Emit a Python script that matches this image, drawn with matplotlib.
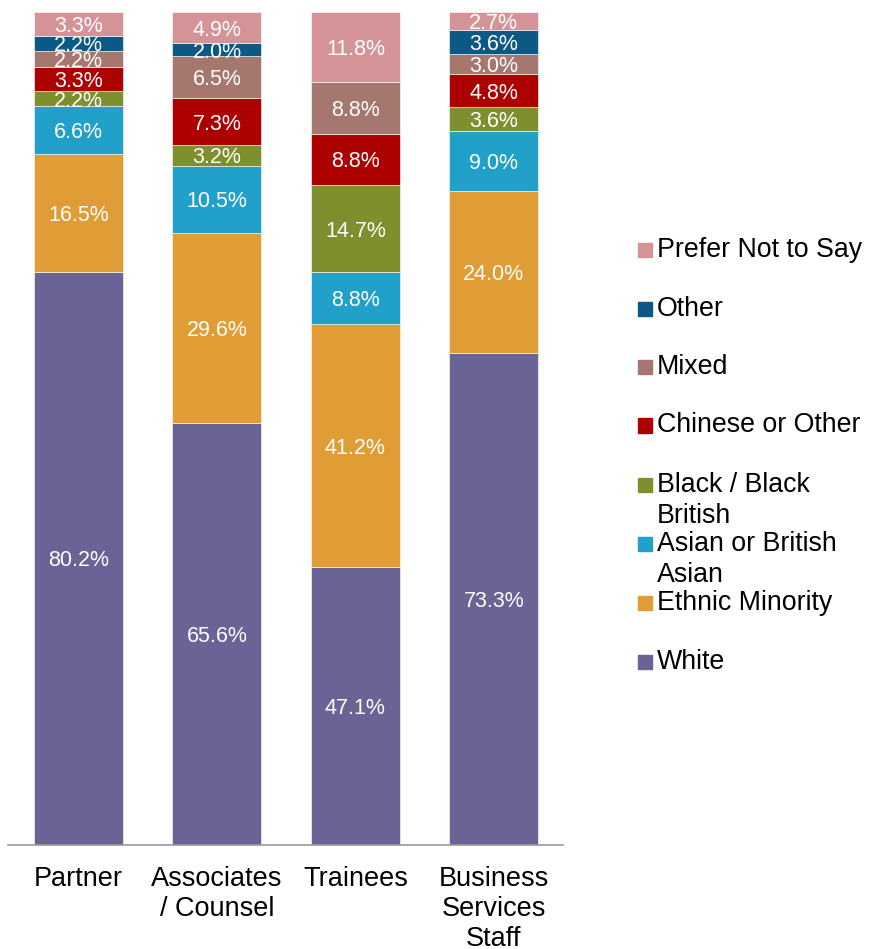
import matplotlib
matplotlib.use("Agg")
import matplotlib.pyplot as plt
from matplotlib.patches import Rectangle
import numpy as np

plt.rcParams['font.family'] = ['Liberation Sans', 'DejaVu Sans']

categories = ["Partner", "Associates\n/ Counsel", "Trainees", "Business\nServices\nStaff"]
series = ["White", "Ethnic Minority", "Asian or British\nAsian", "Black / Black\nBritish",
          "Chinese or Other", "Mixed", "Other", "Prefer Not to Say"]
white = [80.2, 65.6, 47.1, 73.3]
ethnic_minority = [16.5, 29.6, 41.2, 24.0]
asian = [6.6, 10.5, 8.8, 9.0]
black = [2.2, 3.2, 14.7, 3.6]
chinese = [3.3, 7.3, 8.8, 4.8]
mixed = [2.2, 6.5, 8.8, 3.0]
other = [2.2, 2.0, 0.0, 3.6]
prefer_not = [3.3, 4.9, 11.8, 2.7]
colors = ["#6A6396", "#E09C35", "#21A0C9", "#7E8F2D", "#AD0000", "#A5776F", "#0B5984", "#D49396"]

data = np.array([white, ethnic_minority, asian, black, chinese, mixed, other, prefer_not])
totals = data.sum(axis=0)
shares = data / totals * 100

fig = plt.figure(figsize=(8.78, 9.49), dpi=100)
ax = fig.add_axes([8/878, 1-845/949, 555/878, 833/949])
x = np.arange(len(categories))
bottom = np.zeros(len(categories))
for i, name in enumerate(series):
    ax.bar(x, shares[i], 0.643, bottom=bottom, color=colors[i], edgecolor="white", linewidth=0.4)
    for j in range(len(categories)):
        if data[i, j] > 0:
            ax.text(x[j], bottom[j] + shares[i, j]/2, f"{data[i, j]:.1f}%", ha="center",
                    va="center_baseline", color="white", fontsize=15.5)
    bottom += shares[i]

ax.set_xlim(-0.51, 3.5)
ax.set_ylim(0, 100)
ax.set_yticks([])
ax.set_xticks(x)
ax.set_xticklabels(categories, fontsize=19.5, linespacing=1.2)
ax.tick_params(axis="x", length=0, pad=15)
for s in ["top", "right", "left"]:
    ax.spines[s].set_visible(False)
ax.spines["bottom"].set_color("#9a9a9a")
ax.spines["bottom"].set_linewidth(1.2)

# legend (reverse order)
leg_y = [250, 309, 367, 425.5, 485, 544, 603, 662]
for k, idx in enumerate(range(len(series)-1, -1, -1)):
    y = leg_y[k]
    fig.patches.append(Rectangle((638/878, 1-(y+7)/949), 14/878, 14/949, transform=fig.transFigure,
                                 color=colors[idx]))
    for li, line in enumerate(series[idx].split("\n")):
        fig.text(657/878, 1-(y+7+31*li)/949, line, fontsize=19.3, ha="left", va="baseline")

fig.savefig("out.png", dpi=100)
